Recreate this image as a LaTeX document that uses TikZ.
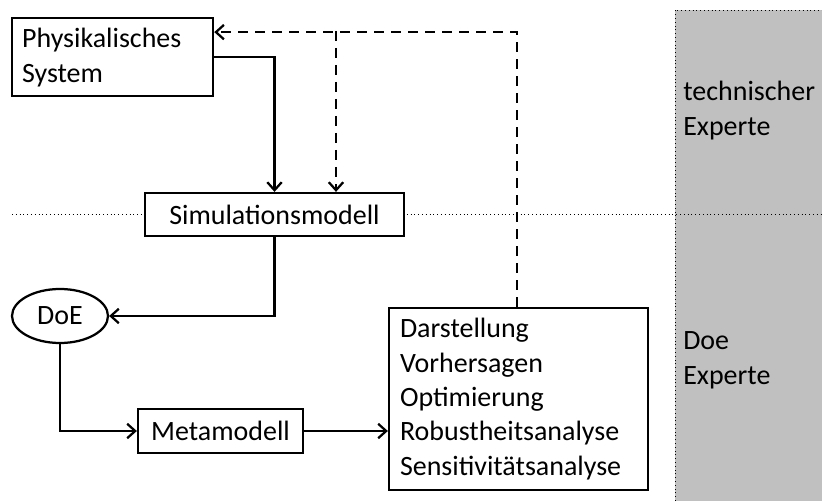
\documentclass[tikz,border=0pt]{standalone}
\usepackage{fontspec}
\setmainfont{Carlito}
\usepackage{tikz}
\usetikzlibrary{arrows.meta,calc,positioning,shapes.geometric}
\definecolor{panelgray}{RGB}{192,192,192}
\tikzset{%
	box/.style      = {draw, rectangle, fill=white, line width=1.6pt, inner sep=0pt},
	ellbox/.style   = {draw, ellipse, fill=white, line width=1.6pt, inner sep=0pt, minimum width=2.4cm, minimum height=1.35cm},
	arrow/.style    = {line width=1.6pt, -{Straight Barb[length=2mm,width=3.6mm]}},
	feedback/.style = {arrow, dash pattern=on 2.5mm off 1.75mm},
	sep/.style      = {line width=0.7pt, dotted},
	expert/.style   = {align=left, anchor=west, inner sep=0pt},
}
\newcommand{\txt}{\fontsize{19.9}{24.9}\selectfont}

\begin{document}
\begin{tikzpicture}[font=\txt]
	\useasboundingbox (0,0) rectangle (20.55,12.525);
	
	% Expertenbereich
	\fill[panelgray] (16.875,0) rectangle (20.55,12.275);
	\draw[sep] (16.875,0) |- (20.55,12.275);
	\draw[sep] (0.3,7.17) -- (20.55,7.17);
	\node[expert] (tech) at (17.075,9.75) {technischer\\Experte};
	\node[expert] (doex) at (17.075,3.525) {Doe\\Experte};
	
	\node[box, anchor=north west, text width=4.525cm, minimum height=1.95cm, inner xsep=0.25cm, align=left] (phys) at (0.275,12.1) {Physikalisches\\System};
	\node[box, minimum width=6.475cm, minimum height=1.075cm] (sim) at (6.8625,7.1625) {Simulationsmodell};
	\node[ellbox] (doe) at (1.5,4.625) {DoE};
	\node[box, minimum width=4.125cm, minimum height=1.1cm] (meta) at (5.5125,1.75) {Metamodell};
	\node[box, text width=5.925cm, minimum height=4.55cm, inner xsep=0.275cm, align=left, font=\fontsize{19.9}{24.5}\selectfont] (dar) at (12.9625,2.55) {Darstellung\\Vorhersagen\\Optimierung\\Robustheitsanalyse\\Sensitivitätsanalyse};
	
	\draw[arrow] (phys.east) -| (sim.north);
	\draw[arrow] (sim.south) |- (doe.east);
	\draw[arrow] (doe.south) |- (meta.west);
	\draw[arrow] (meta.east) -- (meta.east -| dar.west);
	
	\draw[feedback] ([xshift=-0.04cm]dar.north) |- ([yshift=0.625cm]phys.east);
	\coordinate (branch) at (8.4,11.75);
	\draw[feedback] (branch) -- (branch |- sim.north);
\end{tikzpicture}
\end{document}
